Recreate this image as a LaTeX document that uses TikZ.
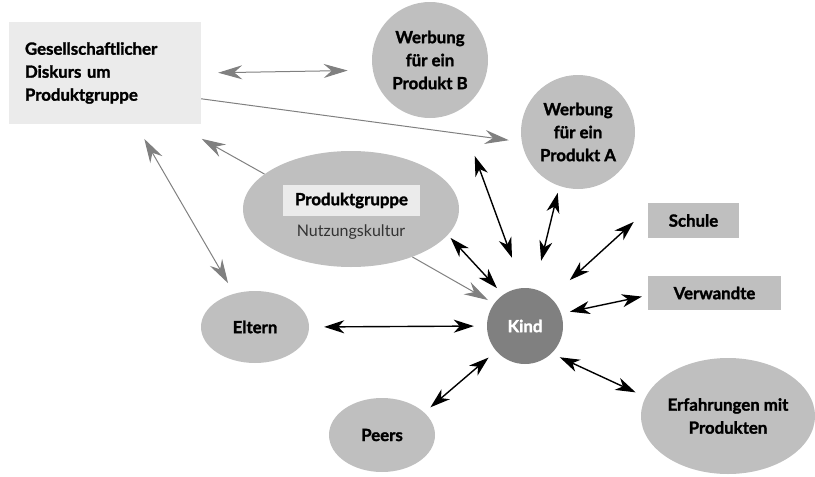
\documentclass[tikz,border=0pt]{standalone}
\usepackage{fontspec}
\setmainfont{Lato}[BoldFeatures={FakeBold=1.6}]
\usetikzlibrary{shapes.geometric,arrows.meta}
\definecolor{paleBox}{HTML}{EBEBEB}
\definecolor{midGrey}{HTML}{BFBFBF}
\definecolor{darkGrey}{HTML}{808080}
\tikzstyle{blob} = [ellipse, fill=midGrey, inner sep=0pt, align=center]
\tikzstyle{ball} = [circle, fill=midGrey, inner sep=0pt, align=center]
\tikzstyle{tag} = [rectangle, fill=midGrey, inner sep=0pt]
\tikzstyle{grey} = [draw=darkGrey, line width=1pt, -{Stealth[length=24pt,width=14pt,inset=8pt]}]
\tikzstyle{greyboth} = [draw=darkGrey, line width=1pt, {Stealth[length=24pt,width=14pt,inset=8pt]}-{Stealth[length=24pt,width=14pt,inset=8pt]}]
\tikzstyle{both} = [draw=black, line width=1.4pt, {Stealth[length=20pt,width=13pt,inset=6pt]}-{Stealth[length=20pt,width=13pt,inset=6pt]}]

\begin{document}
\begin{tikzpicture}[x=1pt,y=-1pt,font=\fontsize{16.8}{23}\selectfont\bfseries]
  \useasboundingbox (0,0) rectangle (815,477);
  \node[rectangle, fill=paleBox, minimum width=192pt, minimum height=102pt, text width=160pt, align=left] (Diskurs) at (105,73) {Gesellschaftlicher\\Diskurs um\\Produktgruppe};
  \node[ball, minimum size=116pt] (WerbungB) at (430,60) {Werbung\\für ein\\Produkt B};
  \node[ball, minimum size=114pt] (WerbungA) at (578,132) {Werbung\\für ein\\Produkt A};
  \node[blob, minimum width=216pt, minimum height=116pt] (Gruppe) at (351,209) {};
  \node[rectangle, fill=paleBox, minimum width=137pt, minimum height=31pt, inner sep=0pt] (GruppeName) at (351.5,200.5) {Produktgruppe};
  \node[font=\fontsize{16}{18}\selectfont, text=black!80] (GruppeKultur) at (351,232) {Nutzungskultur};
  \node[tag, minimum width=91pt, minimum height=35pt] (Schule) at (693.5,220.5) {Schule};
  \node[tag, minimum width=133pt, minimum height=34pt] (Verwandte) at (714.5,293) {Verwandte};
  \node[circle, fill=darkGrey, text=white, inner sep=0pt, minimum size=76pt] (Kind) at (525,326) {Kind};
  \node[blob, minimum width=108pt, minimum height=72pt] (Eltern) at (255,327) {Eltern};
  \node[blob, minimum width=106pt, minimum height=74pt] (Peers) at (382,435) {Peers};
  \node[blob, minimum width=174pt, minimum height=116pt] (Erfahrung) at (728,416) {Erfahrungen mit\\Produkten};

  % grey links around the discourse box
  \path[greyboth, shorten <=17pt, shorten >=25pt] (Diskurs.east) -- (WerbungB.190);
  \path[grey, shorten >=13pt] (Diskurs.-15) -- (WerbungA.190);
  \path[grey, shorten >=30pt] (Gruppe.158) -- (Diskurs.-36);
  \path[greyboth, shorten <=17pt, shorten >=12pt] (Diskurs.-59) -- (Eltern.122);
  \path[grey, shorten >=7pt] (Gruppe.-38) -- (Kind.144);

  % black links of the child
  \path[both, shorten <=13pt, shorten >=15pt] (Kind.west) -- (Eltern.east);
  \path[both, shorten <=10pt, shorten >=8pt] (Kind.221) -- (Peers.28);
  \path[both, shorten <=9pt, shorten >=11pt] (Kind.-46) -- (Erfahrung.167);
  \path[both, shorten <=9pt, shorten >=6pt] (Kind.19) -- (Verwandte.182);
  \path[both, shorten <=26pt, shorten >=19pt] (Kind.48) -- (Schule.166);
  \path[both, shorten <=29pt, shorten >=7pt] (Kind.76) -- (WerbungA.251);
  \path[both, shorten <=32pt, shorten >=48pt] (Kind.93) -- (WerbungB.-61);
  \path[both, shorten <=9pt, shorten >=4pt] (Kind.125) -- (Gruppe.-15);
\end{tikzpicture}
\end{document}
